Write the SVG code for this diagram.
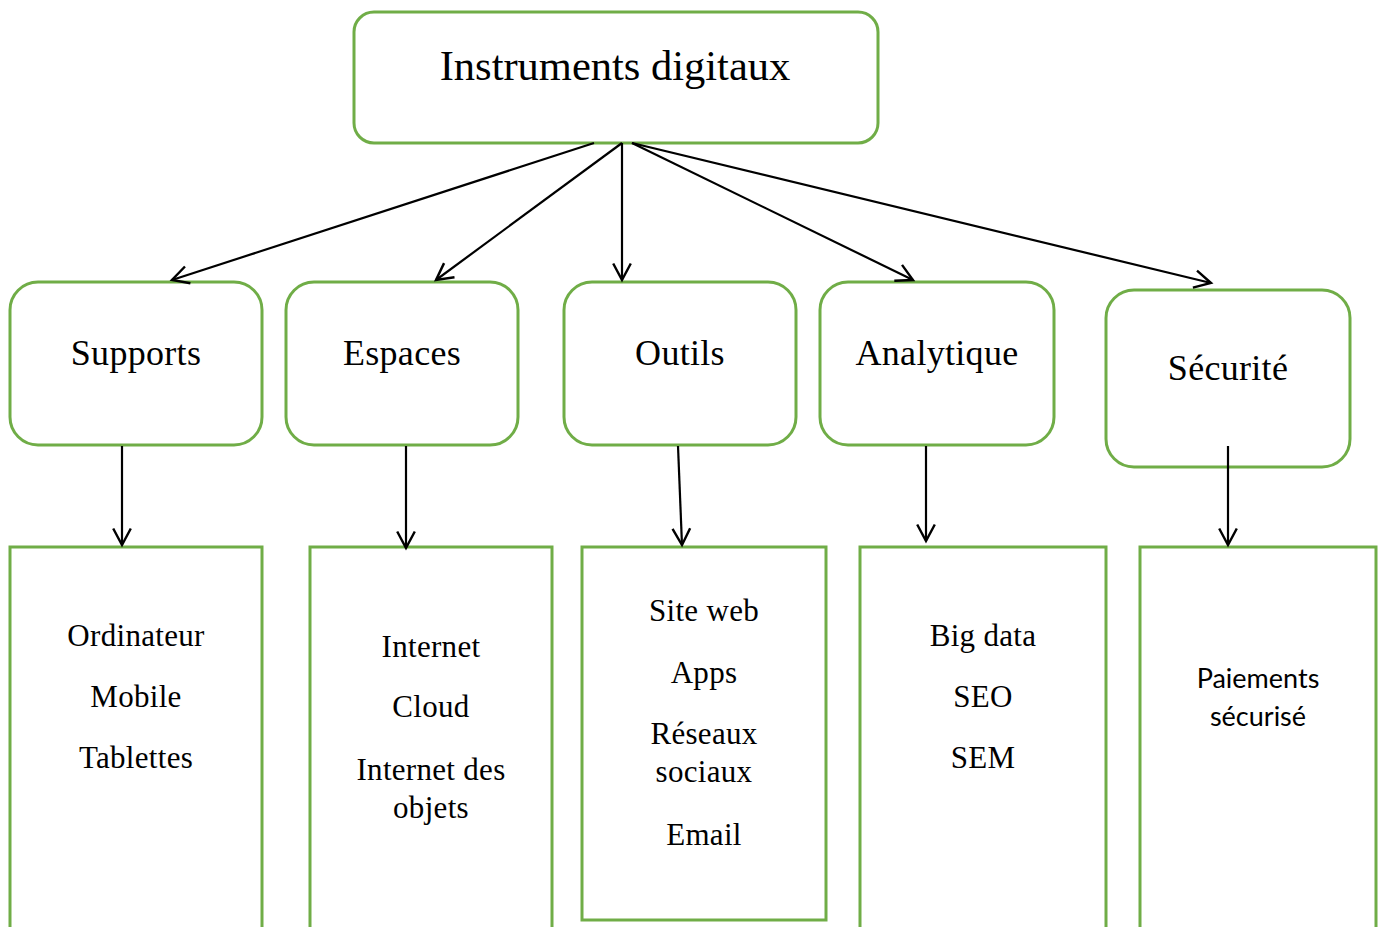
<svg xmlns="http://www.w3.org/2000/svg" width="1382" height="927" viewBox="0 0 1382 927">
<defs>
<marker id="ah" markerWidth="22" markerHeight="22" refX="17" refY="9" orient="auto" markerUnits="userSpaceOnUse" viewBox="0 0 20 18">
<path d="M2,1 L17,9 L2,17" fill="none" stroke="#000" stroke-width="2.2"/>
</marker>
<style>
.box{fill:#fff;stroke:#70AD47;stroke-width:3}
.t{font-family:"Liberation Serif","Times New Roman",serif;fill:#000;text-anchor:middle}
.b{font-size:31px;letter-spacing:0.3px}
.m{font-size:36px;letter-spacing:0.3px}
.s{font-family:"Lato","Open Sans",sans-serif;fill:#000;text-anchor:middle;font-size:27px}
.c{stroke:#000;stroke-width:2.2;fill:none;marker-end:url(#ah)}
</style>
</defs>
<rect width="1382" height="927" fill="#fff"/>
<g id="root"><rect class="box" x="354" y="12" width="524" height="131" rx="20"/><text class="t" x="615" y="80" font-size="42.5">Instruments digitaux</text></g>
<g id="supports"><rect class="box" x="10" y="282" width="252" height="163" rx="28"/><text class="t m" x="136" y="365">Supports</text></g>
<g id="espaces"><rect class="box" x="286" y="282" width="232" height="163" rx="28"/><text class="t m" x="402" y="365">Espaces</text></g>
<g id="outils"><rect class="box" x="564" y="282" width="232" height="163" rx="28"/><text class="t m" x="680" y="365">Outils</text></g>
<g id="analytique"><rect class="box" x="820" y="282" width="234" height="163" rx="28"/><text class="t m" x="937" y="365">Analytique</text></g>
<g id="securite"><rect class="box" x="1106" y="290" width="244" height="177" rx="28"/><text class="t m" x="1228" y="380">Sécurité</text></g>
<g id="l-supports"><rect class="box" x="10" y="547" width="252" height="400"/>
<text class="t b" x="136" y="646">Ordinateur</text><text class="t b" x="136" y="707">Mobile</text><text class="t b" x="136" y="768">Tablettes</text></g>
<g id="l-espaces"><rect class="box" x="310" y="547" width="242" height="400"/>
<text class="t b" x="431" y="657">Internet</text><text class="t b" x="431" y="717">Cloud</text><text class="t b" x="431" y="780">Internet des</text><text class="t b" x="431" y="818">objets</text></g>
<g id="l-outils"><rect class="box" x="582" y="547" width="244" height="373"/>
<text class="t b" x="704" y="621">Site web</text><text class="t b" x="704" y="683">Apps</text><text class="t b" x="704" y="744">Réseaux</text><text class="t b" x="704" y="782">sociaux</text><text class="t b" x="704" y="845">Email</text></g>
<g id="l-analytique"><rect class="box" x="860" y="547" width="246" height="400"/>
<text class="t b" x="983" y="646">Big data</text><text class="t b" x="983" y="707">SEO</text><text class="t b" x="983" y="768">SEM</text></g>
<g id="l-securite"><rect class="box" x="1140" y="547" width="236" height="400"/>
<text class="s" x="1258" y="688">Paiements</text><text class="s" x="1258" y="726">sécurisé</text></g>
<g id="connectors">
<line class="c" x1="594" y1="143" x2="172" y2="280"/>
<line class="c" x1="622" y1="143" x2="436" y2="280"/>
<line class="c" x1="622" y1="143" x2="622" y2="280"/>
<line class="c" x1="632" y1="143" x2="913" y2="280"/>
<line class="c" x1="632" y1="143" x2="1211" y2="283"/>
<line class="c" x1="122" y1="446" x2="122" y2="545"/>
<line class="c" x1="406" y1="446" x2="406" y2="548"/>
<line class="c" x1="678" y1="446" x2="682" y2="545"/>
<line class="c" x1="926" y1="446" x2="926" y2="541"/>
<line class="c" x1="1228" y1="446" x2="1228" y2="545"/>
</g>
</svg>
